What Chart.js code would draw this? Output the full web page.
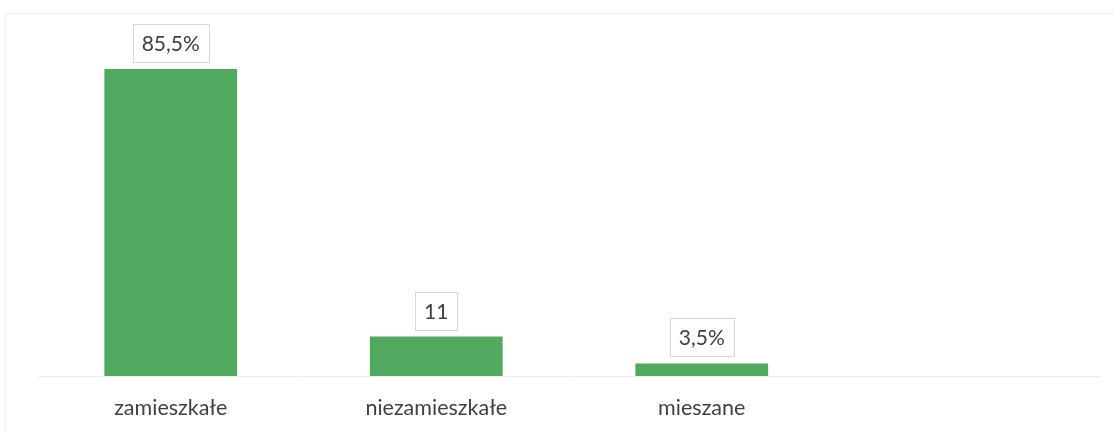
<!DOCTYPE html>
<html>
<head>
<meta charset="utf-8">
<script src="https://cdn.jsdelivr.net/npm/chart.js@4/dist/chart.umd.min.js"></script>
<style>
  html, body { margin: 0; padding: 0; background: #fff; }
  #wrap { width: 1114px; height: 431px; position: relative; }
</style>
</head>
<body>
<div id="wrap"><canvas id="chart"></canvas></div>
<script>
  // categories (last slot is empty in the original)
  var categories = ['zamieszkałe', 'niezamieszkałe', 'mieszane', ''];
  var shares = [85.5, 11, 3.5, null];
  var valueLabels = ['85,5%', '11', '3,5%', ''];

  var barColor = '#50a95e';
  var textColor = '#404040';

  // boxed value labels above each bar
  var boxLabels = {
    id: 'boxLabels',
    afterDatasetsDraw: function (chart) {
      var ctx = chart.ctx;
      var meta = chart.getDatasetMeta(0);
      ctx.save();
      ctx.font = '21px Lato';
      ctx.textAlign = 'center';
      ctx.textBaseline = 'middle';
      meta.data.forEach(function (bar, i) {
        var txt = valueLabels[i];
        if (!txt) return;
        var w = Math.round(ctx.measureText(txt).width + 18);
        var h = 38;
        var bottom = bar.y - 7;
        var left = Math.round(bar.x - w / 2) + 0.5;
        var top = Math.round(bottom - h) + 0.5;
        ctx.fillStyle = '#fff';
        ctx.fillRect(left, top, w, h);
        ctx.strokeStyle = '#d6d6d6';
        ctx.lineWidth = 1;
        ctx.strokeRect(left, top, w, h);
        ctx.fillStyle = textColor;
        ctx.fillText(txt, bar.x, top + h / 2 + 1);
      });
      ctx.restore();
    }
  };

  // faint frame around the whole picture
  var frame = {
    id: 'frame',
    beforeDraw: function (chart) {
      var ctx = chart.ctx;
      ctx.save();
      ctx.strokeStyle = '#f1f1f1';
      ctx.lineWidth = 1;
      ctx.beginPath();
      ctx.moveTo(5.5, 431);
      ctx.lineTo(5.5, 13.5);
      ctx.lineTo(1114, 13.5);
      ctx.stroke();
      ctx.restore();
    }
  };

  new Chart(document.getElementById('chart'), {
    type: 'bar',
    data: {
      labels: categories,
      datasets: [{
        data: shares,
        backgroundColor: barColor,
        borderWidth: 0,
        barPercentage: 0.5,
        categoryPercentage: 1
      }]
    },
    options: {
      responsive: true,
      maintainAspectRatio: false,
      animation: false,
      layout: { padding: { left: 38, right: 14, top: 17, bottom: 0 } },
      plugins: { legend: { display: false }, tooltip: { enabled: false } },
      scales: {
        x: {
          grid: { display: false, drawTicks: false },
          border: { display: true, color: '#ececec' },
          ticks: { color: textColor, font: { family: 'Lato', size: 21.5 }, padding: 19 },
          afterFit: function (scale) { scale.height = 55; }
        },
        y: {
          display: false,
          min: 0,
          max: 100
        }
      }
    },
    plugins: [frame, boxLabels]
  });
</script>
</body>
</html>
